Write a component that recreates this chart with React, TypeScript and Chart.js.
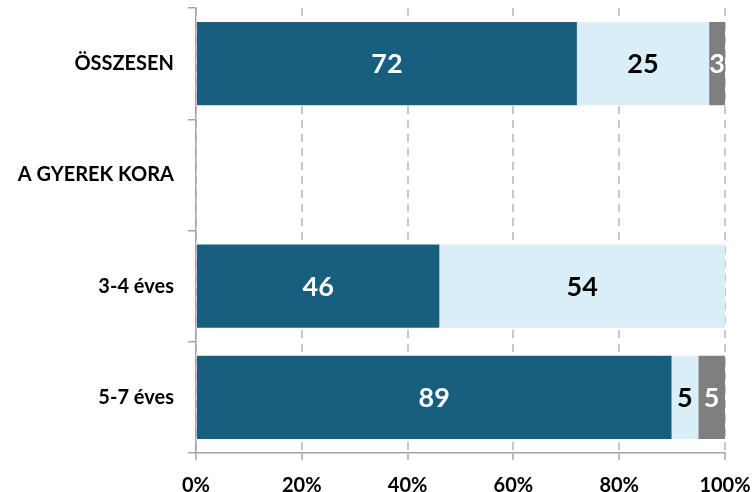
import React, { useEffect, useRef } from "react";
import { Chart, registerables } from "chart.js";

Chart.register(...registerables);

const categories = ["ÖSSZESEN", "A GYEREK KORA", "3-4 éves", "5-7 éves"];
const seriesDark: (number | null)[] = [72, null, 46, 89];
const seriesLight: (number | null)[] = [25, null, 54, 5];
const seriesGray: (number | null)[] = [3, null, 0, 5];
const xTicks = [0, 20, 40, 60, 80, 100];

const FONT = "Lato, 'Open Sans', sans-serif";

const totals = categories.map(
  (_, i) => (seriesDark[i] ?? 0) + (seriesLight[i] ?? 0) + (seriesGray[i] ?? 0)
);
const toPct = (arr: (number | null)[]) =>
  arr.map((v, i) => (v == null || totals[i] === 0 ? null : (v / totals[i]) * 100));

const labelPlugin = {
  id: "barLabels",
  afterDatasetsDraw(chart: any) {
    const ctx = chart.ctx;
    ctx.save();
    ctx.font = `bold 27px ${FONT}`;
    ctx.textAlign = "center";
    ctx.textBaseline = "middle";
    chart.data.datasets.forEach((ds: any, di: number) => {
      const meta = chart.getDatasetMeta(di);
      meta.data.forEach((el: any, i: number) => {
        const raw = ds.rawValues[i];
        if (raw == null || raw === 0) return;
        ctx.fillStyle = ds.labelColor;
        ctx.fillText(String(raw), (el.x + el.base) / 2, el.y + 1);
      });
    });
    ctx.restore();
  },
};

export default function App() {
  const ref = useRef<HTMLCanvasElement>(null);
  useEffect(() => {
    if (!ref.current) return;
    const chart = new Chart(ref.current, {
      type: "bar",
      data: {
        labels: categories,
        datasets: [
          { data: toPct(seriesDark), rawValues: seriesDark, labelColor: "#FFFFFF", backgroundColor: "#175E7F" } as any,
          { data: toPct(seriesLight), rawValues: seriesLight, labelColor: "#000000", backgroundColor: "#DAEEF7" } as any,
          { data: toPct(seriesGray), rawValues: seriesGray, labelColor: "#FFFFFF", backgroundColor: "#7F7F7F" } as any,
        ],
      },
      options: {
        indexAxis: "y",
        animation: false,
        responsive: false,
        maintainAspectRatio: false,
        layout: { padding: { top: 8, right: 30, left: 0, bottom: 0 } },
        datasets: { bar: { barPercentage: 0.75, categoryPercentage: 1 } },
        plugins: { legend: { display: false }, tooltip: { enabled: false } },
        scales: {
          x: {
            stacked: true,
            min: 0,
            max: 100,
            afterBuildTicks: (s: any) => {
              s.ticks = xTicks.map((v) => ({ value: v }));
            },
            afterFit: (s: any) => {
              s.height = 39;
              s.paddingLeft = 0;
              s.paddingRight = 0;
            },
            ticks: {
              callback: (v: any) => `${v}%`,
              color: "#000000",
              font: { family: FONT, size: 20, weight: "bold" },
              padding: 14,
              maxRotation: 0,
            },
            grid: {
              color: "#C8C8C8",
              lineWidth: 2,
              tickColor: "#A6A6A6",
              tickLength: 7,
              tickBorderDash: [],
              tickWidth: 1.5,
            },
            border: { display: true, color: "#A6A6A6", width: 1.5, dash: [8, 6] },
          },
          y: {
            stacked: true,
            afterFit: (s: any) => {
              s.width = 196;
              s.paddingTop = 0;
              s.paddingBottom = 0;
            },
            ticks: {
              color: "#000000",
              font: { family: FONT, size: 20, weight: "bold" },
              padding: 14,
            },
            grid: {
              offset: true,
              drawOnChartArea: false,
              color: "#A6A6A6",
              lineWidth: 1.5,
              tickLength: 8,
            },
            border: { display: true, color: "#A6A6A6", width: 1.5 },
          },
        },
      },
      plugins: [labelPlugin],
    } as any);
    return () => chart.destroy();
  }, []);
  return (
    <div style={{ position: "absolute", left: 0, top: 0, width: 755, height: 492, background: "#fff" }}>
      <canvas ref={ref} width={755} height={492} style={{ width: 755, height: 492 }} />
    </div>
  );
}
